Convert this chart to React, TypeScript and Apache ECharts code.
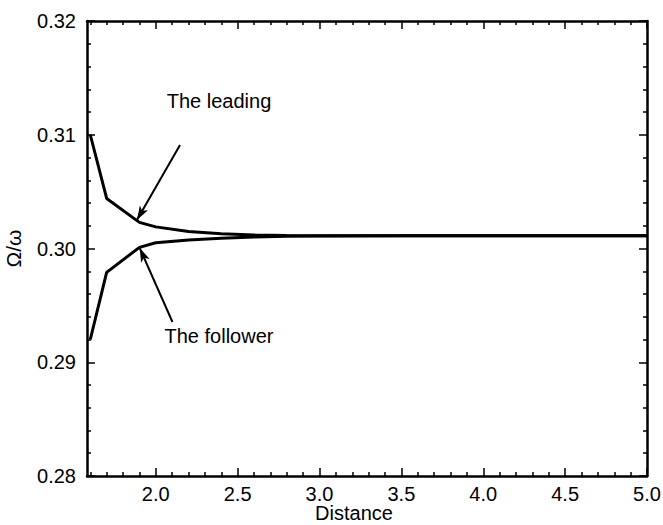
import React, { useEffect, useRef } from "react";
import * as echarts from "echarts";

const distance = [1.6, 1.7, 1.9, 2.0, 2.2, 2.4, 2.6, 2.8, 3.0, 3.5, 4.0, 4.5, 5.0];
const leading = [0.31, 0.3044, 0.3023, 0.3019, 0.3015, 0.3013, 0.30118, 0.30114, 0.30112, 0.30112, 0.30112, 0.30112, 0.30112];
const follower = [0.292, 0.2979, 0.3001, 0.3005, 0.30075, 0.3009, 0.30102, 0.30107, 0.3011, 0.30111, 0.30111, 0.30111, 0.30111];

const xMajorTicks = [2.0, 2.5, 3.0, 3.5, 4.0, 4.5, 5.0];
const xMinorTicks = [1.6, 1.7, 1.8, 1.9, 2.1, 2.2, 2.3, 2.4, 2.6, 2.7, 2.8, 2.9, 3.1, 3.2, 3.3, 3.4, 3.6, 3.7, 3.8, 3.9, 4.1, 4.2, 4.3, 4.4, 4.6, 4.7, 4.8, 4.9];

const leadingArrow = [[2.148, 0.3091], [1.885, 0.30251]];
const followerArrow = [[2.102, 0.29354], [1.902, 0.30004]];

const FONT = "Liberation Sans";

export default function App() {
  const ref = useRef<HTMLDivElement>(null);
  useEffect(() => {
    if (!ref.current) return;
    const chart = echarts.init(ref.current, null, { renderer: "svg" });
    const lineStyle = { color: "#000", width: 2.5 };
    const xCommon = {
      type: "value",
      min: 1.58,
      max: 5.0,
      splitLine: { show: false },
    };
    const mkX = (pos: string, major: boolean, labels: boolean) => ({
      ...xCommon,
      position: pos,
      axisLine: { show: major, lineStyle },
      axisTick: {
        show: true,
        inside: true,
        length: major ? 8 : 4,
        customValues: major ? xMajorTicks : xMinorTicks,
        lineStyle: { color: "#000", width: 1.5 },
      },
      axisLabel: labels
        ? {
            show: true,
            customValues: xMajorTicks,
            formatter: (v: number) => v.toFixed(1),
            color: "#000",
            fontFamily: FONT,
            fontSize: 20,
            margin: 8,
          }
        : { show: false },
    });
    const mkY = (pos: string, labels: boolean) => ({
      type: "value",
      min: 0.28,
      max: 0.32,
      interval: 0.01,
      position: pos,
      splitLine: { show: false },
      axisLine: { show: true, lineStyle },
      axisTick: { show: true, inside: true, length: 8, lineStyle: { color: "#000", width: 1.5 } },
      minorTick: { show: true, splitNumber: 5, length: 4, lineStyle: { color: "#000", width: 1.5 } },
      axisLabel: labels
        ? { show: true, formatter: (v: number) => v.toFixed(2), color: "#000", fontFamily: FONT, fontSize: 20, margin: 11 }
        : { show: false },
      name: labels ? "Ω/ω" : "",
      nameLocation: "middle",
      nameGap: 63,
      nameTextStyle: { color: "#000", fontFamily: FONT, fontSize: 21 },
    });
    const arrowMark = (pts: number[][]) => ({
      silent: true,
      symbol: ["none", "arrow"],
      symbolSize: [7, 14],
      label: { show: false },
      lineStyle: { color: "#000", width: 2, type: "solid" },
      data: [[{ coord: pts[0] }, { coord: pts[1] }]],
    });
    chart.setOption({
      animation: false,
      backgroundColor: "#fff",
      grid: { left: 87, right: 16, top: 21, bottom: 49, containLabel: false, outerBoundsMode: "none" },
      xAxis: [mkX("bottom", true, true), mkX("bottom", false, false), mkX("top", true, false), mkX("top", false, false)],
      yAxis: [mkY("left", true), mkY("right", false)],
      series: [
        {
          type: "line",
          data: distance.map((d, i) => [d, leading[i]]),
          showSymbol: false,
          lineStyle: { color: "#000", width: 3 },
          markLine: arrowMark(leadingArrow),
        },
        {
          type: "line",
          data: distance.map((d, i) => [d, follower[i]]),
          showSymbol: false,
          lineStyle: { color: "#000", width: 3 },
          markLine: arrowMark(followerArrow),
        },
      ],
      graphic: [
        { type: "text", x: 219, y: 101, style: { text: "The leading", fill: "#000", font: `20px "${FONT}"`, textAlign: "center", textVerticalAlign: "middle" } },
        { type: "text", x: 219, y: 336, style: { text: "The follower", fill: "#000", font: `20px "${FONT}"`, textAlign: "center", textVerticalAlign: "middle" } },
        { type: "text", x: 354, y: 513, style: { text: "Distance", fill: "#000", font: `20px "${FONT}"`, textAlign: "center", textVerticalAlign: "middle" } },
      ],
    });
    return () => chart.dispose();
  }, []);
  return <div ref={ref} style={{ position: "fixed", left: 0, top: 0, width: 663, height: 525 }} />;
}
